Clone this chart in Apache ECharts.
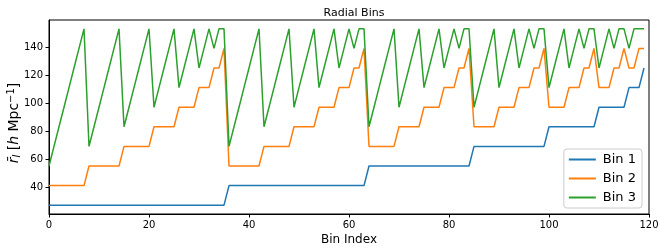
<!DOCTYPE html>
<html><head><meta charset="utf-8">
<script src="https://cdn.jsdelivr.net/npm/echarts@6/dist/echarts.min.js"></script>
<style>html,body{margin:0;padding:0;background:#fff}#c{width:664px;height:251px}</style>
</head><body><div id="c"></div>
<script>
const title = "Radial Bins";
const xLabel = "Bin Index";
const seriesNames = ["Bin 1", "Bin 2", "Bin 3"];
const xTicks = [0, 20, 40, 60, 80, 100, 120];
const yTicks = [40, 60, 80, 100, 120, 140];

const bin1 = [
27,27,27,27,27,27,27,27,27,27,27,27,27,27,27,27,27,27,27,27,27,27,27,27,27,27,27,27,27,27,27,27,27,27,27,27,
41,41,41,41,41,41,41,41,41,41,41,41,41,41,41,41,41,41,41,41,41,41,41,41,41,41,41,41,
55,55,55,55,55,55,55,55,55,55,55,55,55,55,55,55,55,55,55,55,55,
69,69,69,69,69,69,69,69,69,69,69,69,69,69,69,
83,83,83,83,83,83,83,83,83,83,
97,97,97,97,97,97,
111,111,111,
125
];

const bin2 = [
41,41,41,41,41,41,41,41, 55,55,55,55,55,55,55, 69,69,69,69,69,69, 83,83,83,83,83, 97,97,97,97, 111,111,111, 125,125, 139,
55,55,55,55,55,55,55, 69,69,69,69,69,69, 83,83,83,83,83, 97,97,97,97, 111,111,111, 125,125, 139,
69,69,69,69,69,69, 83,83,83,83,83, 97,97,97,97, 111,111,111, 125,125, 139,
83,83,83,83,83, 97,97,97,97, 111,111,111, 125,125, 139,
97,97,97,97, 111,111,111, 125,125, 139,
111,111,111, 125,125, 139,
125,125, 139,
139
];

const bin3 = [
55,69,83,97,111,125,139,153, 69,83,97,111,125,139,153, 83,97,111,125,139,153, 97,111,125,139,153, 111,125,139,153, 125,139,153, 139,153, 153,
69,83,97,111,125,139,153, 83,97,111,125,139,153, 97,111,125,139,153, 111,125,139,153, 125,139,153, 139,153, 153,
83,97,111,125,139,153, 97,111,125,139,153, 111,125,139,153, 125,139,153, 139,153, 153,
97,111,125,139,153, 111,125,139,153, 125,139,153, 139,153, 153,
111,125,139,153, 125,139,153, 139,153, 153,
125,139,153, 139,153, 153,
139,153, 153,
153
];

const colors = ["#1f77b4", "#ff7f0e", "#2ca02c"];
const FONT = "DejaVu Sans";

const chart = echarts.init(document.getElementById('c'), null, {renderer: 'canvas'});
const mk = (arr, name, col) => ({
  type: 'line', name, data: arr.map((v, i) => [i, v]),
  showSymbol: false, symbol: 'none', animation: false,
  lineStyle: {color: col, width: 1.5}, itemStyle: {color: col}
});

chart.setOption({
  animation: false,
  title: {text: title, left: 349, top: 3, textAlign: 'center',
    textStyle: {fontFamily: FONT, fontSize: 11, fontWeight: 'normal', color: '#000'}},
  grid: {left: 49, right: 15, top: 20, bottom: 37, containLabel: false, outerBoundsMode: 'none',
    show: true, borderColor: '#000', borderWidth: 1, backgroundColor: 'transparent'},
  legend: {
    orient: 'vertical', right: 22, bottom: 43,
    data: seriesNames,
    icon: 'rect', itemWidth: 27, itemHeight: 2, itemGap: 6,
    textStyle: {fontFamily: FONT, fontSize: 13, color: '#000', padding: [0,0,0,2]},
    borderColor: '#ccc', borderWidth: 1, borderRadius: 3,
    backgroundColor: '#fff', padding: [4, 6, 4, 5]
  },
  xAxis: {
    type: 'value', min: 0, max: 120, interval: 20,
    name: xLabel, nameLocation: 'middle', nameGap: 20, nameMoveOverlap: false,
    nameTextStyle: {fontFamily: FONT, fontSize: 12, color: '#000'},
    axisLine: {show: true, lineStyle: {color: '#000', width: 1}},
    axisTick: {show: true, inside: false, length: 3.5, lineStyle: {color: '#000'}},
    axisLabel: {fontFamily: FONT, fontSize: 10, color: '#000', margin: 6},
    splitLine: {show: false}
  },
  yAxis: {
    type: 'value', min: 20.7, max: 159.3,
    name: '{i|r\u0304}{sub|l} [{i|h} Mpc{sup|\u22121}]',
    nameLocation: 'middle', nameGap: 27, nameRotate: 90, nameMoveOverlap: false,
    nameTextStyle: {fontFamily: FONT, fontSize: 14, color: '#000', padding: [0, 12, 0, 0],
      rich: {
        i: {fontFamily: FONT, fontSize: 14, fontStyle: 'italic', color: '#000'},
        sub: {fontFamily: FONT, fontSize: 10, fontStyle: 'italic', color: '#000', verticalAlign: 'bottom', padding: [5,0,0,0]},
        sup: {fontFamily: FONT, fontSize: 10, color: '#000', verticalAlign: 'top', padding: [0,0,6,0]}
      }},
    axisLine: {show: true, lineStyle: {color: '#000', width: 1}},
    axisTick: {show: true, inside: false, length: 3.5, lineStyle: {color: '#000'}, customValues: yTicks},
    axisLabel: {fontFamily: FONT, fontSize: 10, color: '#000', margin: 6, customValues: yTicks},
    splitLine: {show: false}
  },
  series: [mk(bin1, seriesNames[0], colors[0]), mk(bin2, seriesNames[1], colors[1]), mk(bin3, seriesNames[2], colors[2])]
});
</script>
</body></html>
